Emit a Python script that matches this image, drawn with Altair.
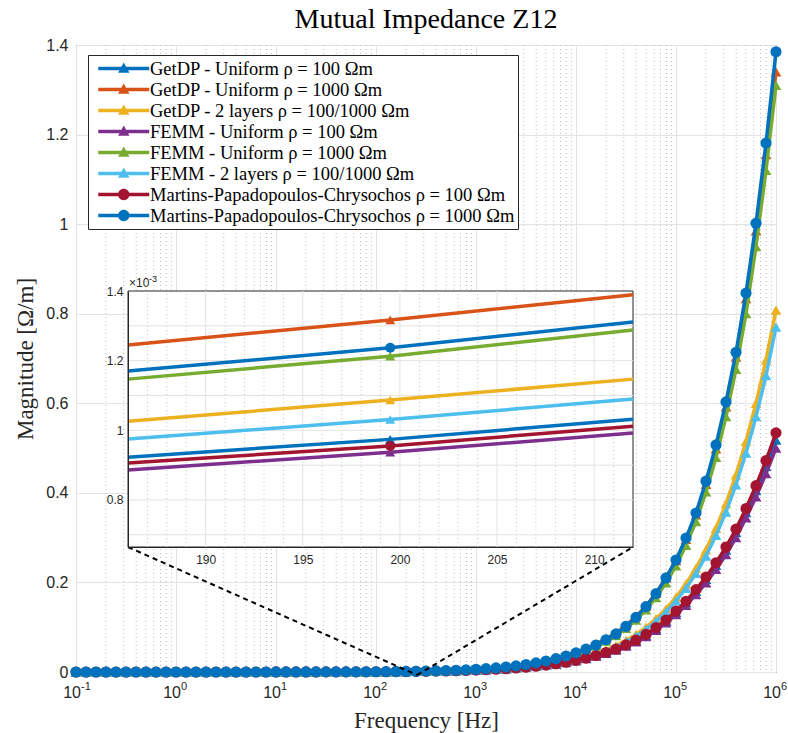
import altair as alt
import pandas as pd

# ---------------- data ----------------
SERIES = [
    "GetDP - Uniform ρ = 100 Ωm",
    "GetDP - Uniform ρ = 1000 Ωm",
    "GetDP - 2 layers ρ = 100/1000 Ωm",
    "FEMM - Uniform ρ = 100 Ωm",
    "FEMM - Uniform ρ = 1000 Ωm",
    "FEMM - 2 layers ρ = 100/1000 Ωm",
    "Martins-Papadopoulos-Chrysochos ρ = 100 Ωm",
    "Martins-Papadopoulos-Chrysochos ρ = 1000 Ωm",
]
COLORS = ["#0072BD", "#D95319", "#EDB120", "#7E2F8E", "#77AC30", "#4DBEEE", "#A2142F", "#0072BD"]
MARKERS = ["triangle", "triangle", "triangle", "triangle", "triangle", "triangle", "circle", "circle"]

# frequency points: 10 per decade, 0.1 Hz ... 1 MHz
MANTISSA = [1.0, 1.259, 1.585, 1.995, 2.512, 3.162, 3.981, 5.012, 6.310, 7.943]
DECADE_EXP = [-1, 0, 1, 2, 3, 4, 5]
FREQ = [m * 10.0 ** d for d in DECADE_EXP for m in MANTISSA] + [1e6]

Z0 = [0.0, 0.0, 0.0, 0.0, 0.0, 0.0, 0.0, 0.0, 0.0, 0.0,
      0.0, 0.0, 0.0, 0.0, 0.0, 0.0, 0.0, 0.0, 0.0, 0.0]

GETDP_U100 = Z0 + [0.0001, 0.0001, 0.0001, 0.0001, 0.0001, 0.0002, 0.0002, 0.0003, 0.0003, 0.0004,
                   0.0005, 0.0006, 0.0008, 0.0010, 0.0013, 0.0016, 0.0020, 0.0024, 0.0029, 0.0035,
                   0.0043, 0.0052, 0.0062, 0.0075, 0.0090, 0.0108, 0.0129, 0.0154, 0.0184, 0.0219,
                   0.0260, 0.0309, 0.0366, 0.0432, 0.0509, 0.0598, 0.070, 0.082, 0.097, 0.114,
                   0.133, 0.155, 0.180, 0.207, 0.238, 0.272, 0.311, 0.356, 0.405, 0.459, 0.518]
GETDP_U1000 = Z0 + [0.0001, 0.0001, 0.0001, 0.0001, 0.0002, 0.0002, 0.0003, 0.0003, 0.0004, 0.0005,
                    0.0007, 0.0008, 0.0011, 0.0013, 0.0017, 0.0021, 0.0027, 0.0033, 0.0041, 0.0051,
                    0.0064, 0.0078, 0.0096, 0.0118, 0.0145, 0.0176, 0.0213, 0.0258, 0.0310, 0.0372,
                    0.0443, 0.0527, 0.0622, 0.0740, 0.0870, 0.104, 0.124, 0.147, 0.176, 0.210,
                    0.249, 0.296, 0.351, 0.419, 0.498, 0.592, 0.703, 0.834, 0.985, 1.155, 1.340]
GETDP_2L = Z0 + [0.0001, 0.0001, 0.0001, 0.0001, 0.0001, 0.0002, 0.0002, 0.0003, 0.0003, 0.0004,
                 0.0005, 0.0007, 0.0009, 0.0011, 0.0013, 0.0015, 0.0019, 0.0023, 0.0028, 0.0034,
                 0.0042, 0.0051, 0.0062, 0.0076, 0.0092, 0.0111, 0.0134, 0.0162, 0.0196, 0.0236,
                 0.0284, 0.0342, 0.0411, 0.0493, 0.0590, 0.0705, 0.0840, 0.100, 0.119, 0.141,
                 0.167, 0.197, 0.232, 0.273, 0.321, 0.376, 0.440, 0.515, 0.600, 0.697, 0.808]
FEMM_U100 = Z0 + [0.0001, 0.0001, 0.0001, 0.0001, 0.0001, 0.0002, 0.0002, 0.0003, 0.0003, 0.0004,
                  0.0005, 0.0006, 0.0007, 0.0009, 0.0012, 0.0015, 0.0019, 0.0023, 0.0028, 0.0034,
                  0.0041, 0.0050, 0.0060, 0.0072, 0.0087, 0.0104, 0.0124, 0.0149, 0.0178, 0.0211,
                  0.0251, 0.0298, 0.0353, 0.0417, 0.0491, 0.0577, 0.0675, 0.079, 0.093, 0.110,
                  0.128, 0.149, 0.173, 0.199, 0.229, 0.262, 0.300, 0.344, 0.391, 0.443, 0.500]
FEMM_U1000 = Z0 + [0.0001, 0.0001, 0.0001, 0.0001, 0.0002, 0.0002, 0.0003, 0.0003, 0.0004, 0.0005,
                   0.0006, 0.0008, 0.0010, 0.0012, 0.0016, 0.0020, 0.0025, 0.0030, 0.0038, 0.0047,
                   0.0059, 0.0072, 0.0089, 0.0109, 0.0134, 0.0163, 0.0198, 0.0239, 0.0288, 0.0346,
                   0.0413, 0.0492, 0.0580, 0.0690, 0.0815, 0.0975, 0.116, 0.139, 0.166, 0.199,
                   0.237, 0.283, 0.336, 0.402, 0.479, 0.570, 0.676, 0.800, 0.950, 1.120, 1.310]
FEMM_2L = Z0 + [0.0001, 0.0001, 0.0001, 0.0001, 0.0001, 0.0002, 0.0002, 0.0002, 0.0003, 0.0004,
                0.0005, 0.0006, 0.0008, 0.0010, 0.0012, 0.0014, 0.0018, 0.0022, 0.0027, 0.0032,
                0.0040, 0.0048, 0.0059, 0.0072, 0.0087, 0.0105, 0.0127, 0.0154, 0.0186, 0.0224,
                0.0270, 0.0325, 0.0390, 0.0468, 0.0560, 0.0670, 0.0798, 0.095, 0.113, 0.134,
                0.159, 0.187, 0.220, 0.259, 0.305, 0.357, 0.418, 0.489, 0.570, 0.662, 0.770]
MPC_100 = Z0 + [0.0001, 0.0001, 0.0001, 0.0001, 0.0001, 0.0002, 0.0002, 0.0003, 0.0003, 0.0004,
                0.0005, 0.0006, 0.0008, 0.0010, 0.0012, 0.0015, 0.0019, 0.0023, 0.0028, 0.0034,
                0.0042, 0.0051, 0.0061, 0.0074, 0.0089, 0.0107, 0.0128, 0.0154, 0.0184, 0.0219,
                0.0261, 0.0311, 0.0369, 0.0436, 0.0514, 0.0605, 0.071, 0.084, 0.099, 0.116,
                0.136, 0.158, 0.184, 0.212, 0.244, 0.279, 0.319, 0.365, 0.416, 0.472, 0.534]
MPC_1000 = Z0 + [0.0001, 0.0001, 0.0001, 0.0001, 0.0002, 0.0002, 0.0003, 0.0003, 0.0004, 0.0005,
                 0.0006, 0.0008, 0.0010, 0.0012, 0.0016, 0.0020, 0.0025, 0.0031, 0.0039, 0.0048,
                 0.0060, 0.0074, 0.0091, 0.0112, 0.0137, 0.0167, 0.0203, 0.0246, 0.0297, 0.0357,
                 0.0427, 0.0510, 0.0603, 0.072, 0.085, 0.102, 0.122, 0.146, 0.175, 0.210,
                 0.250, 0.299, 0.355, 0.426, 0.507, 0.603, 0.714, 0.846, 1.002, 1.181, 1.385]
VALUES = [GETDP_U100, GETDP_U1000, GETDP_2L, FEMM_U100, FEMM_U1000, FEMM_2L, MPC_100, MPC_1000]

# zoomed inset (values in Ohm/m, frequency in Hz)
INSET_F = [186.0, 199.5, 212.0]
INSET_VALUES = [
    [0.000923, 0.000974, 0.001032],
    [0.001245, 0.001317, 0.001389],
    [0.001026, 0.001087, 0.001147],
    [0.000886, 0.000937, 0.000992],
    [0.001147, 0.001213, 0.001288],
    [0.000975, 0.001031, 0.001090],
    [0.000906, 0.000955, 0.001012],
    [0.001170, 0.001237, 0.001311],
]
INSET_X_DOMAIN = [186, 212]
INSET_Y_DOMAIN = [0.000665, 0.0014]
INSET_X_TICKS = [190, 195, 200, 205, 210]
INSET_X_MINOR = [187, 188, 189, 191, 192, 193, 194, 196, 197, 198, 199, 201, 202, 203, 204,
                 206, 207, 208, 209, 211]
INSET_Y_TICKS = [0.0008, 0.001, 0.0012, 0.0014]
INSET_Y_GRID = [0.0007, 0.0008, 0.0009, 0.001, 0.0011, 0.0012, 0.0013]

# connector from inset corners to the zoomed spot (main-axis coordinates)
CONN_F = [0.331, 257.0, 37150.0, 257.0]
CONN_V = [0.279, -0.0067, 0.279, -0.0067]
CONN_G = ["a", "a", "b", "b"]

DEC_F = [0.1, 1, 10, 100, 1e3, 1e4, 1e5, 1e6]
DEC_EXP = ["-1", "0", "1", "2", "3", "4", "5", "6"]
MINOR_MULT = [2, 3, 4, 5, 6, 7, 8, 9]
MINOR_F = [m * 10.0 ** d for d in DECADE_EXP for m in MINOR_MULT]
Y_TICKS = [0, 0.2, 0.4, 0.6, 0.8, 1.0, 1.2, 1.4]
TITLE = "Mutual Impedance Z12"

# ---------------- styling ----------------
W, H = 700, 627
SANS = "Liberation Sans"
SERIF = "Liberation Serif"
AX = "#262626"
GRID = "#e3e3e3"

XS = alt.Scale(type="log", domain=[0.1, 1e6], nice=False)
YS = alt.Scale(domain=[0, 1.4], nice=False, zero=False)

x_axis = alt.Axis(values=DEC_F, labels=False, ticks=False, domain=False, grid=True,
                  gridColor=GRID, gridWidth=1, title="Frequency [Hz]", titleFont=SERIF,
                  titleFontSize=23, titleFontWeight="normal", titleColor=AX,
                  titleY=55, titleBaseline="alphabetic")
y_axis = alt.Axis(values=Y_TICKS, format="~g", labelFont=SANS, labelFontSize=16,
                  labelColor=AX, ticks=False, domain=False, labelPadding=8, grid=True,
                  gridColor=GRID, gridWidth=1, title="Magnitude [Ω/m]", titleFont=SERIF,
                  titleFontSize=23, titleFontWeight="normal", titleColor=AX,
                  titleX=-44, titleBaseline="alphabetic")


def MX(field="f"):
    return alt.X(f"{field}:Q", scale=XS, axis=x_axis)


def MY(field="v"):
    return alt.Y(f"{field}:Q", scale=YS, axis=y_axis)


# ---------------- main panel ----------------
main_layers = []
main_layers.append(
    alt.Chart(pd.DataFrame({"f": MINOR_F}))
    .mark_rule(color="#bcbcbc", strokeWidth=1, strokeDash=[1, 3])
    .encode(x=MX(), y=alt.value(0), y2=alt.value(H))
)
for name, vals, col, mk in zip(SERIES, VALUES, COLORS, MARKERS):
    d = pd.DataFrame({"f": FREQ, "v": vals})
    base = alt.Chart(d)
    main_layers.append(base.mark_line(color=col, strokeWidth=3.5).encode(x=MX(), y=MY()))
    shape = "triangle-up" if mk == "triangle" else "circle"
    size = 115 if mk == "triangle" else 125
    main_layers.append(
        base.mark_point(shape=shape, filled=True, opacity=1, size=size, color=col)
        .encode(x=MX(), y=MY())
    )

lab = pd.DataFrame({"f": DEC_F, "e": DEC_EXP})
main_layers.append(
    alt.Chart(lab).mark_text(align="right", baseline="alphabetic", dx=5, font=SANS,
                             fontSize=16, color=AX)
    .encode(x=MX(), y=alt.value(H + 26), text=alt.value("10"))
)
main_layers.append(
    alt.Chart(lab).mark_text(align="left", baseline="alphabetic", dx=5, font=SANS,
                             fontSize=11, color=AX)
    .encode(x=MX(), y=alt.value(H + 18), text="e:N")
)
main_layers.append(
    alt.Chart(pd.DataFrame({"f": CONN_F, "v": CONN_V, "g": CONN_G}))
    .mark_line(color="black", strokeWidth=2, strokeDash=[5, 4], clip=False)
    .encode(x=MX(), y=MY(), detail="g:N")
)
main_layers.append(
    alt.Chart(pd.DataFrame({"t": [TITLE]}))
    .mark_text(align="center", baseline="alphabetic", font=SERIF, fontSize=28, color="black")
    .encode(x=alt.value(W / 2), y=alt.value(-17), text="t:N")
)
main = alt.layer(*main_layers)

# ---------------- inset panel ----------------
XI = alt.Scale(domain=INSET_X_DOMAIN, range=[52, 557], nice=False, zero=False)
YI = alt.Scale(domain=INSET_Y_DOMAIN, range=[502, 246], nice=False, zero=False)
ix_axis = alt.Axis(values=INSET_X_TICKS, orient="bottom", offset=-(H - 502), grid=False,
                   ticks=False, domain=True, domainColor=AX, domainWidth=1, labelFont=SANS,
                   labelFontSize=12, labelColor=AX, labelPadding=7, title=None, zindex=1)
iy_axis = alt.Axis(values=INSET_Y_TICKS, orient="left", offset=-52, grid=False, ticks=False,
                   domain=True, domainColor=AX, domainWidth=1, labelFont=SANS,
                   labelFontSize=12, labelColor=AX, labelPadding=5, title=None, zindex=1,
                   labelExpr="format(datum.value*1000, '~g')")


def IX(field="x"):
    return alt.X(f"{field}:Q", scale=XI, axis=ix_axis)


def IY(field="v"):
    return alt.Y(f"{field}:Q", scale=YI, axis=iy_axis)


inset_layers = []
inset_layers.append(
    alt.Chart(pd.DataFrame({"x": [INSET_X_DOMAIN[0]], "x2": [INSET_X_DOMAIN[1]],
                            "v": [INSET_Y_DOMAIN[0]], "v2": [INSET_Y_DOMAIN[1]]}))
    .mark_rect(fill="white", stroke=AX, strokeWidth=1)
    .encode(x=IX(), x2="x2:Q", y=IY(), y2="v2:Q")
)
inset_layers.append(
    alt.Chart(pd.DataFrame({"x": INSET_X_MINOR}))
    .mark_rule(color="#c4c4c4", strokeWidth=1, strokeDash=[1, 3])
    .encode(x=IX(), y=alt.datum(INSET_Y_DOMAIN[0]), y2=alt.datum(INSET_Y_DOMAIN[1]))
)
inset_layers.append(
    alt.Chart(pd.DataFrame({"x": INSET_X_TICKS}))
    .mark_rule(color=GRID, strokeWidth=1)
    .encode(x=IX(), y=alt.datum(INSET_Y_DOMAIN[0]), y2=alt.datum(INSET_Y_DOMAIN[1]))
)
inset_layers.append(
    alt.Chart(pd.DataFrame({"v": INSET_Y_GRID}))
    .mark_rule(color=GRID, strokeWidth=1)
    .encode(y=IY(), x=alt.datum(INSET_X_DOMAIN[0]), x2=alt.datum(INSET_X_DOMAIN[1]))
)
for vals, col, mk in zip(INSET_VALUES, COLORS, MARKERS):
    d = pd.DataFrame({"x": INSET_F, "v": vals})
    inset_layers.append(alt.Chart(d).mark_line(color=col, strokeWidth=3.5).encode(x=IX(), y=IY()))
    shape = "triangle-up" if mk == "triangle" else "circle"
    inset_layers.append(
        alt.Chart(pd.DataFrame({"x": [INSET_F[1]], "v": [vals[1]]}))
        .mark_point(shape=shape, filled=True, opacity=1, size=100, color=col)
        .encode(x=IX(), y=IY())
    )
corner = pd.DataFrame({"x": [INSET_X_DOMAIN[0]], "v": [INSET_Y_DOMAIN[1]]})
inset_layers.append(
    alt.Chart(corner).mark_text(align="left", baseline="alphabetic", dx=1, dy=-4,
                                font=SANS, fontSize=12, color=AX)
    .encode(x=IX(), y=IY(), text=alt.value("×10"))
)
inset_layers.append(
    alt.Chart(corner).mark_text(align="left", baseline="alphabetic", dx=21, dy=-9,
                                font=SANS, fontSize=9, color=AX)
    .encode(x=IX(), y=IY(), text=alt.value("-3"))
)
inset = alt.layer(*inset_layers)

# ---------------- legend ----------------
LINE = "M-4.25,-0.3L4.25,-0.3L4.25,0.3L-4.25,0.3Z"
TRI = LINE + "M0,-1L0.95,0.7L-0.95,0.7Z"
CIR = LINE + "M0.95,0A0.95,0.95 0 1,1 -0.95,0A0.95,0.95 0 1,1 0.95,0Z"
PATHS = [TRI if m == "triangle" else CIR for m in MARKERS]

leg = alt.Legend(title=None, orient="none", legendX=12, legendY=10, fillColor="white",
                 strokeColor=AX, padding=3, labelFont=SERIF, labelFontSize=18.5,
                 labelColor="black", labelLimit=1000, symbolSize=144, symbolStrokeWidth=0,
                 symbolOffset=23.5, labelOffset=17, clipHeight=21, rowPadding=0,
                 cornerRadius=0)
legend_layer = (
    alt.Chart(pd.DataFrame({"s": SERIES}))
    .transform_filter("false")
    .mark_point(filled=True, opacity=1)
    .encode(
        color=alt.Color("s:N", scale=alt.Scale(domain=SERIES, range=COLORS), legend=leg),
        shape=alt.Shape("s:N", scale=alt.Scale(domain=SERIES, range=PATHS), legend=leg),
    )
)

chart = (
    alt.layer(main, inset, legend_layer)
    .resolve_scale(x="independent", y="independent")
    .properties(
        width=W, height=H, autosize="none",
        padding={"left": 76, "top": 45, "right": 12, "bottom": 61},
        background="white",
    )
    .configure_view(stroke=AX, strokeWidth=1)
)

chart.save("out.html", embed_options={"renderer": "svg", "actions": False})
